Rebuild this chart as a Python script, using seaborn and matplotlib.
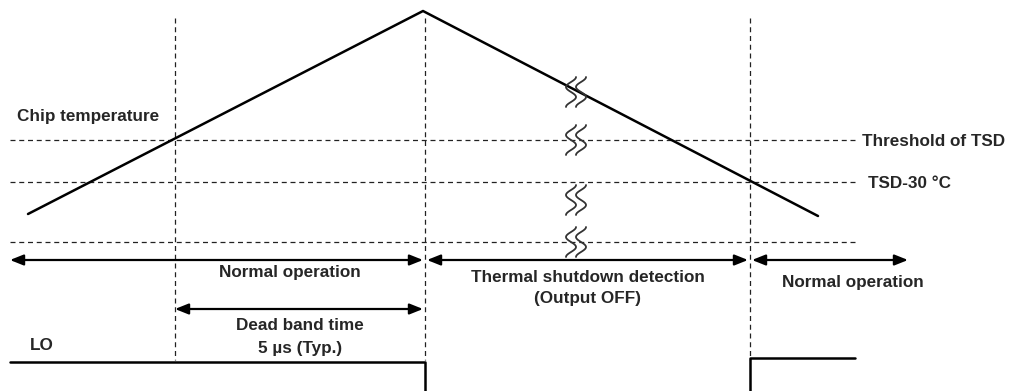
import numpy as np
import pandas as pd
import matplotlib
matplotlib.use("Agg")
import matplotlib.pyplot as plt
import seaborn as sns

# diagram data (x: time position, y: level, drawn in a 1009 x 391 frame, y downwards)
temp_time = [28, 423, 818]
temp_level = [214, 11, 216]

marker_times = [175, 425, 750]          # vertical dashed guides
level_y = [140, 182, 242]               # horizontal dashed guides
level_labels = ["Threshold of TSD", "TSD-30 °C", ""]
level_label_x = [862, 868, 0]

spans = [(10, 423), (427, 748), (752, 908)]
span_labels = [["Normal operation"], ["Thermal shutdown detection", "(Output OFF)"], ["Normal operation"]]
span_label_x = [290, 588, 853]
span_label_y = [272, 278, 282]

dead_band = (175, 423)
lo_x1, lo_y1 = [10, 425, 425], [362, 362, 395]
lo_x2, lo_y2 = [750, 750, 855], [395, 358, 358]
break_y = [92, 140, 200, 242]
break_x = 576

sns.set_style("white")
plt.rcParams["font.family"] = ["Liberation Sans", "DejaVu Sans"]
FS = 12.3

fig = plt.figure(figsize=(10.09, 3.91), dpi=100)
ax = fig.add_axes([0, 0, 1, 1])

dash = dict(color="#222222", lw=0.9, ls=(0, (4, 3)))
for y, lab, lx in zip(level_y, level_labels, level_label_x):
    ax.plot([10, 857], [y, y], **dash)
    if lab:
        ax.text(lx, y + 1, lab, fontsize=FS, fontweight="bold", va="center", ha="left")
for x in marker_times:
    ax.plot([x, x], [18, 360], **dash)

# temperature curve
df = pd.DataFrame({"t": temp_time, "temp": temp_level})
sns.lineplot(data=df, x="t", y="temp", ax=ax, color="black", lw=1.8, sort=False)
ax.set_xlim(0, 1009)
ax.set_ylim(391, 0)
ax.axis("off")
ax.text(17, 116, "Chip temperature", fontsize=FS, fontweight="bold", va="center", ha="left")

# break marks (double S)
s = np.linspace(-1, 1, 80)
for by in break_y:
    for dx in (-5, 5):
        xs = break_x + dx + 5 * np.sin(1.5 * np.pi * s)
        ys = by + 15 * s
        ax.plot(xs, ys, color="#333333", lw=1.3)

# span arrows
arr = dict(arrowstyle="<|-|>,head_length=0.8,head_width=0.32", color="black", lw=1.6,
           shrinkA=0, shrinkB=0)
for (a, b), labs, lx, ly in zip(spans, span_labels, span_label_x, span_label_y):
    ax.annotate("", xy=(a, 260), xytext=(b, 260), arrowprops=arr)
    for i, txt in enumerate(labs):
        ax.text(lx, ly + 21 * i, txt, fontsize=FS, fontweight="bold", ha="center", va="center")

ax.annotate("", xy=(dead_band[0], 309), xytext=(dead_band[1], 309), arrowprops=arr)
ax.text(300, 325, "Dead band time", fontsize=FS, fontweight="bold", ha="center", va="center")
ax.text(300, 348, "5 µs (Typ.)", fontsize=FS, fontweight="bold", ha="center", va="center")

# LO signal
ax.text(30, 345, "LO", fontsize=FS, fontweight="bold", ha="left", va="center")
ax.plot(lo_x1, lo_y1, color="black", lw=1.8)
ax.plot(lo_x2, lo_y2, color="black", lw=1.8)

fig.savefig("out.png", dpi=100)
